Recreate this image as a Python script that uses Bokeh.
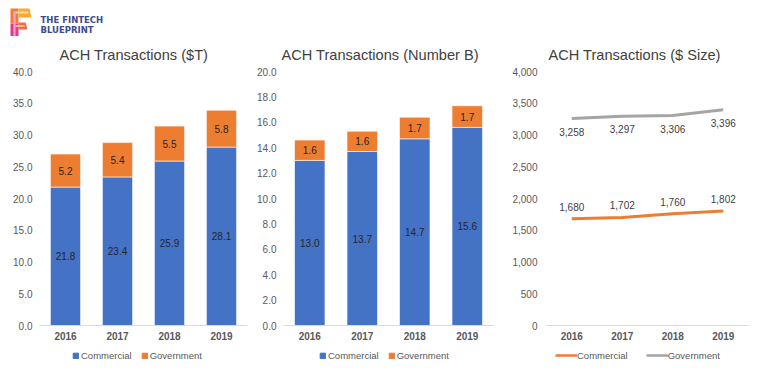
from bokeh.plotting import figure
from bokeh.layouts import row, column
from bokeh.models import (ColumnDataSource, LabelSet, Legend, LegendItem,
                          NumeralTickFormatter, FixedTicker, Range1d, FactorRange)
from bokeh.core.properties import value
from bokeh.embed import file_html
from bokeh.resources import INLINE

# ---------------- data ----------------
years = ["2016", "2017", "2018", "2019"]
value_commercial = [21.8, 23.4, 25.9, 28.1]      # $T
value_government = [5.2, 5.4, 5.5, 5.8]
count_commercial = [13.0, 13.7, 14.7, 15.6]      # number B
count_government = [1.6, 1.6, 1.7, 1.7]
size_commercial = [1680, 1702, 1760, 1802]       # $ size
size_government = [3258, 3297, 3306, 3396]
series_names = ["Commercial", "Government"]
value_ticks = [0, 5, 10, 15, 20, 25, 30, 35, 40]
count_ticks = [0, 2, 4, 6, 8, 10, 12, 14, 16, 18, 20]
size_ticks = [0, 500, 1000, 1500, 2000, 2500, 3000, 3500, 4000]

BLUE = "#4472C4"
ORANGE = "#ED7D31"
GRAY = "#A5A5A5"
TXT = "#595959"
FONT = "Liberation Sans"
FRAME_H = 254
TOP = 35
LEG_H = 20


def base_fig(title, ymax, ticks, fmt, frame_w, b_left, b_right, title_offset, standoff):
    p = figure(x_range=FactorRange(*years), y_range=Range1d(0, ymax),
               frame_width=frame_w, frame_height=FRAME_H,
               min_border_left=b_left, min_border_right=b_right,
               min_border_top=TOP, min_border_bottom=20,
               output_backend="svg", toolbar_location=None)
    p.title.text = title
    p.title.text_font = FONT
    p.title.text_font_size = "14.6px"
    p.title.text_font_style = "normal"
    p.title.text_color = "#404040"
    p.title.align = "left"
    p.title.offset = title_offset
    p.title.standoff = 17
    p.outline_line_color = None
    p.xgrid.grid_line_color = None
    p.ygrid.grid_line_color = None

    p.xaxis.axis_line_color = "#D9D9D9"
    p.xaxis.axis_line_width = 1
    p.xaxis.major_tick_line_color = None
    p.xaxis.minor_tick_line_color = None
    p.xaxis.major_tick_out = 0
    p.xaxis.major_tick_in = 0
    p.xaxis.major_label_standoff = 6
    p.xaxis.major_label_text_font = FONT
    p.xaxis.major_label_text_font_size = "10px"
    p.xaxis.major_label_text_font_style = "bold"
    p.xaxis.major_label_text_color = TXT

    p.yaxis.axis_line_color = None
    p.yaxis.major_tick_line_color = None
    p.yaxis.minor_tick_line_color = None
    p.yaxis.major_tick_out = 0
    p.yaxis.major_tick_in = 0
    p.yaxis.major_label_standoff = standoff
    p.yaxis.ticker = FixedTicker(ticks=ticks)
    p.yaxis.formatter = NumeralTickFormatter(format=fmt)
    p.yaxis.major_label_text_font = FONT
    p.yaxis.major_label_text_font_size = "10px"
    p.yaxis.major_label_text_color = TXT
    return p


def legend_fig(width, kind, legend_x):
    """A thin strip below a chart that holds its legend (proxy renderers sit outside the view)."""
    q = figure(width=width, height=LEG_H, x_range=Range1d(0, 1), y_range=Range1d(0, 1),
               x_axis_type=None, y_axis_type=None, min_border=0,
               output_backend="svg", toolbar_location=None)
    q.outline_line_color = None
    q.xgrid.grid_line_color = None
    q.ygrid.grid_line_color = None
    if kind == "bar":
        r1 = q.vbar(x=[-5], top=[-5], bottom=[-6], width=0.5, color=BLUE)
        r2 = q.vbar(x=[-5], top=[-5], bottom=[-6], width=0.5, color=ORANGE)
        gw, gh, so, sp = 7, 7, 2, 9
    else:
        r1 = q.line(x=[-6, -5], y=[-5, -5], line_color=ORANGE, line_width=2.5)
        r2 = q.line(x=[-6, -5], y=[-5, -5], line_color=GRAY, line_width=2.5)
        gw, gh, so, sp = 22, 8, 0, 18
    leg = Legend(items=[LegendItem(label=series_names[0], renderers=[r1]),
                        LegendItem(label=series_names[1], renderers=[r2])],
                 orientation="horizontal", location=(legend_x, 4),
                 glyph_width=gw, glyph_height=gh, label_height=12,
                 label_standoff=so, spacing=sp, padding=0, margin=0,
                 label_text_font=FONT, label_text_font_size="9.5px", label_text_color=TXT,
                 border_line_color=None, background_fill_alpha=0)
    q.add_layout(leg)
    return q


def bar_chart(title, com, gov, ymax, ticks, frame_w, b_left, b_right, title_offset, standoff):
    p = base_fig(title, ymax, ticks, "0.0", frame_w, b_left, b_right, title_offset, standoff)
    src = ColumnDataSource(dict(
        year=years, com=com, gov=gov,
        com_mid=[c / 2 for c in com],
        gov_mid=[c + g / 2 for c, g in zip(com, gov)],
        com_txt=[f"{c:.1f}" for c in com],
        gov_txt=[f"{g:.1f}" for g in gov],
    ))
    p.vbar_stack(["com", "gov"], x="year", width=0.58, color=[BLUE, ORANGE],
                 line_color="white", line_width=0.6, source=src)
    for col, txt in (("com_mid", "com_txt"), ("gov_mid", "gov_txt")):
        p.add_layout(LabelSet(x="year", y=col, text=txt, source=src,
                              text_align="center", text_baseline="middle",
                              text_font=value(FONT), text_font_size=value("10px"),
                              text_color="#262626"))
    return p


# ---- logo strip ----
logo = figure(width=762, height=36, x_range=Range1d(0, 762), y_range=Range1d(36, 0),
              x_axis_type=None, y_axis_type=None, min_border=0,
              output_backend="svg", toolbar_location=None)
logo.outline_line_color = None
logo.xgrid.grid_line_color = None
logo.ygrid.grid_line_color = None
logo.patches(
    xs=[[10, 18, 18, 10], [10, 18, 18, 10], [18, 31, 29, 18], [18, 27, 25, 18],
        [13, 15, 15, 13], [15, 28, 28, 15], [15, 24, 24, 15]],
    ys=[[40, 40, 23, 23], [23, 23, 8, 8], [17, 17, 8, 8], [29, 29, 22, 22],
        [38, 38, 11, 11], [11, 11, 13, 13], [24.5, 24.5, 26.5, 26.5]],
    fill_color=["#E8388A", "#F47B3E", "#F9A83A", "#F26A4A",
                "#F8A7C8", "#FDE07A", "#F9B98A"],
    line_color=None)
logo.text(x=[40, 40], y=[19.5, 29], text=["THE FINTECH", "BLUEPRINT"],
          text_font=value("DejaVu Sans"), text_font_style="bold", text_font_size="8.5px",
          text_color="#3D4A8F", text_baseline="middle", text_align="left")

# ---- chart 1 ----
p1 = bar_chart("ACH Transactions ($T)", value_commercial, value_government, 40, value_ticks,
               208, 39, 7, 20, 7)
c1 = column(p1, legend_fig(254, "bar", 33), spacing=0)

# ---- chart 2 ----
p2 = bar_chart("ACH Transactions (Number B)", count_commercial, count_government, 20, count_ticks,
               210, 28, 13, -2, 7)
c2 = column(p2, legend_fig(251, "bar", 36), spacing=0)

# ---- chart 3 ----
p3 = base_fig("ACH Transactions ($ Size)", 4000, size_ticks, "0,0", 202, 40, 15, 2, 9)
src3 = ColumnDataSource(dict(year=years, com=size_commercial, gov=size_government,
                             com_txt=[f"{v:,}" for v in size_commercial],
                             gov_txt=[f"{v:,}" for v in size_government]))
p3.line(x="year", y="com", source=src3, line_color=ORANGE, line_width=3)
p3.line(x="year", y="gov", source=src3, line_color=GRAY, line_width=3)
p3.add_layout(LabelSet(x="year", y="com", text="com_txt", source=src3, y_offset=12,
                       text_align="center", text_baseline="middle",
                       text_font=value(FONT), text_font_size=value("10px"), text_color="#404040"))
p3.add_layout(LabelSet(x="year", y="gov", text="gov_txt", source=src3, y_offset=-13,
                       text_align="center", text_baseline="middle",
                       text_font=value(FONT), text_font_size=value("10px"), text_color="#404040"))
c3 = column(p3, legend_fig(257, "line", 9), spacing=0)

layout = column(logo, row(c1, c2, c3, spacing=0), spacing=0)
open("out.html", "w").write(file_html(layout, INLINE))
